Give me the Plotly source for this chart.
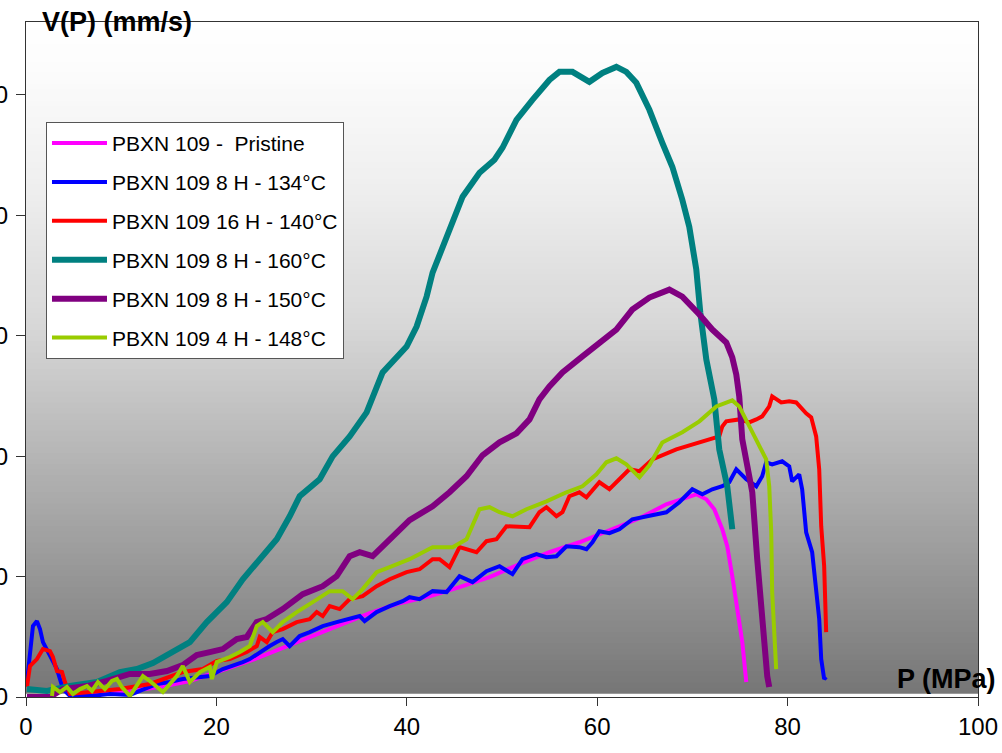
import plotly.graph_objects as go

# ---------------- data (P in MPa, V in mm/s) ----------------
names = ["PBXN 109 -  Pristine", "PBXN 109 8 H - 134°C", "PBXN 109 16 H - 140°C",
         "PBXN 109 8 H - 160°C", "PBXN 109 8 H - 150°C", "PBXN 109 4 H - 148°C"]

pristine_p = [4.62, 7.77, 10.91, 14.06, 17.21, 20.36, 23.50, 26.65, 29.80, 32.95, 36.10, 39.24, 42.39,
              45.54, 48.69, 51.84, 54.98, 58.13, 61.28, 64.43, 67.26, 68.94, 70.41, 71.46, 72.30, 73.14,
              73.66, 74.19, 74.71, 75.24, 75.66]
pristine_v = [0.08, 0.25, 0.50, 0.83, 1.33, 2.16, 2.99, 3.98, 4.98, 6.05, 6.97, 7.79, 8.37,
              9.12, 9.95, 11.03, 12.02, 12.85, 13.85, 14.84, 16.00, 16.42, 16.83, 16.42, 15.59, 13.93,
              12.52, 10.03, 7.30, 4.56, 1.24]

h134_p = [0.10, 0.42, 0.73, 1.15, 1.47, 1.78, 2.52, 3.25, 3.57, 3.88, 4.62, 6.72, 8.81, 10.91, 13.75,
          15.11, 16.47, 17.94, 19.31, 20.67, 21.72, 22.77, 23.50, 24.55, 25.60, 26.34, 26.97, 27.70,
          28.75, 29.80, 31.17, 32.63, 34.00, 35.05, 35.57, 36.83, 38.20, 39.56, 40.29, 41.34, 42.71,
          44.18, 45.54, 46.91, 48.37, 49.74, 51.10, 52.15, 53.62, 54.67, 55.72, 56.77, 58.13, 58.87,
          59.50, 60.23, 61.28, 62.33, 63.69, 65.48, 67.26, 68.63, 69.99, 71.04, 72.09, 73.14, 73.87,
          74.61, 75.66, 76.71, 77.33, 77.75, 78.38, 79.43, 80.17, 80.48, 81.22, 81.53, 81.95, 82.58,
          83.00, 83.32, 83.53, 83.84, 84.05]
h134_v = [1.24, 3.98, 5.89, 6.30, 5.64, 4.56, 3.40, 2.32, 1.49, 0.66, 0.08, 0.08, 0.25, 0.17, 1.08,
          1.24, 1.49, 1.66, 1.74, 2.32, 2.57, 2.90, 3.15, 3.73, 4.23, 4.56, 4.81, 4.23,
          5.06, 5.39, 5.89, 6.22, 6.47, 6.72, 6.30, 7.05, 7.55, 7.96, 8.29, 8.13, 8.79,
          8.71, 10.03, 9.54, 10.45, 10.86, 10.20, 11.44, 11.86, 11.61, 11.69, 12.52, 12.44, 12.27,
          12.85, 13.76, 13.60, 13.93, 14.76, 15.01, 15.34, 16.17, 17.25, 16.83, 17.25, 17.50, 17.83,
          18.91, 18.08, 17.50, 18.33, 19.49, 19.32, 19.57, 19.15, 17.91, 18.49, 17.25, 13.68, 12.02,
          8.71, 6.47, 3.15, 1.49, 1.66]

h140_p = [0.10, 0.42, 1.15, 1.78, 2.52, 2.83, 3.25, 3.78, 4.09, 4.62, 6.72, 9.86, 13.01, 14.38, 16.47,
          18.57, 20.04, 21.41, 23.19, 24.24, 24.55, 25.29, 25.92, 26.97, 28.44, 29.80, 30.54, 31.17,
          31.90, 32.95, 34.00, 35.36, 36.83, 38.20, 39.98, 41.34, 42.71, 43.44, 44.49, 45.54, 46.27,
          47.32, 48.37, 49.42, 50.47, 51.84, 52.89, 53.93, 54.67, 55.72, 56.35, 57.08, 58.13, 58.87,
          60.23, 61.28, 62.33, 63.38, 64.43, 65.79, 68.31, 69.36, 70.73, 71.77, 72.82, 73.14, 73.56,
          74.92, 75.97, 76.71, 77.33, 78.07, 78.38, 79.33, 80.17, 80.90, 81.53, 81.95, 82.48, 83.00,
          83.32, 83.53, 83.84, 84.05]
h140_v = [0.83, 2.57, 3.15, 3.98, 3.81, 3.32, 2.16, 2.07, 1.24, 0.25, 0.41, 0.66, 1.08, 1.49, 2.07,
          2.32, 2.99, 3.15, 3.73, 4.23, 4.98, 4.56, 5.39, 5.64, 6.22, 6.47, 7.05, 6.72,
          7.55, 7.30, 8.13, 8.37, 9.20, 9.78, 10.37, 10.61, 11.44, 11.44, 10.78, 12.44, 12.27,
          12.02, 12.94, 13.10, 14.18, 14.18, 14.10, 15.34, 15.76, 15.01, 15.34, 16.67, 17.00, 16.58,
          17.83, 17.25, 18.08, 18.91, 18.74, 19.73, 20.56, 20.81, 21.14, 21.39, 21.64, 22.47, 22.89,
          23.05, 22.80, 23.05, 23.30, 24.13, 24.96, 24.46, 24.55, 24.46, 23.88, 23.55, 23.22, 21.64,
          18.91, 14.18, 10.86, 5.39]

h160_p = [0.10, 2.20, 4.62, 7.45, 9.86, 11.65, 13.33, 15.11, 17.21, 18.99, 21.09, 22.77, 24.55, 26.34,
          27.70, 28.75, 30.85, 32.21, 34.00, 35.78, 37.46, 39.98, 41.03, 42.08, 42.71, 43.65, 44.49,
          45.86, 47.64, 49.21, 50.05, 51.52, 53.20, 54.98, 56.03, 57.40, 59.18, 60.55, 62.01, 63.06,
          64.11, 65.48, 66.84, 67.89, 68.94, 69.67, 70.41, 70.83, 71.46, 72.30, 72.82, 73.66, 74.19]
h160_v = [0.66, 0.50, 0.91, 1.24, 2.07, 2.32, 2.82, 3.57, 4.56, 6.22, 7.88, 9.78, 11.44, 13.10,
          15.01, 16.67, 18.08, 19.98, 21.64, 23.63, 26.95, 29.10, 30.76, 33.25, 35.24, 37.15, 39.05,
          41.54, 43.53, 44.61, 45.61, 47.93, 49.59, 51.24, 51.91, 51.91, 51.08, 51.82, 52.32, 51.91,
          51.00, 48.76, 46.02, 44.03, 41.29, 39.05, 35.49, 31.92, 28.03, 24.71, 20.56, 17.50, 13.93]

h150_p = [0.10, 2.52, 3.88, 6.40, 8.50, 10.91, 13.01, 14.80, 16.47, 17.94, 19.31, 20.67, 22.14, 23.19,
          24.24, 25.29, 26.97, 29.07, 31.17, 32.63, 34.00, 35.05, 36.41, 38.20, 40.29, 42.71, 44.49,
          46.27, 47.95, 49.74, 51.52, 52.89, 53.93, 54.98, 56.35, 58.45, 60.23, 62.01, 63.69, 65.48,
          67.58, 68.94, 70.73, 72.09, 73.56, 74.19, 74.61, 74.92, 75.24, 76.29, 76.81, 77.33, 77.86, 78.07]
h150_v = [0.00, 0.00, 0.66, 0.91, 1.33, 1.91, 1.91, 2.16, 2.65, 3.48, 3.73, 3.98, 4.81, 4.98,
          6.22, 6.47, 7.30, 8.54, 9.20, 10.03, 11.69, 12.02, 11.69, 13.10, 14.68, 15.84, 17.00,
          18.33, 20.07, 21.14, 21.89, 23.05, 24.71, 25.79, 26.95, 28.28, 29.44, 30.51, 32.17, 33.17,
          33.83, 33.25, 31.76, 30.51, 29.44, 28.19, 26.78, 24.96, 21.39, 17.00, 11.44, 5.89, 1.74, 0.83]

h148_p = [2.73, 2.83, 3.57, 4.30, 4.93, 5.67, 6.40, 6.93, 7.56, 8.29, 9.02, 9.55, 10.07, 10.91, 12.28,
          13.01, 14.38, 15.84, 16.47, 17.21, 18.26, 19.31, 19.52, 20.04, 21.41, 22.46, 23.50, 24.24,
          24.87, 25.92, 26.97, 28.44, 30.12, 31.90, 33.26, 34.31, 35.36, 36.83, 38.20, 40.29, 42.71,
          44.81, 46.27, 47.64, 48.69, 49.74, 51.10, 52.57, 54.67, 56.77, 58.45, 59.92, 60.97, 62.01,
          63.06, 64.43, 65.48, 66.84, 68.94, 70.73, 72.51, 74.19, 74.92, 75.97, 77.02, 77.75, 78.07,
          78.28, 78.38, 78.80]
h148_v = [0.08, 0.83, 0.41, 0.83, 0.25, 0.66, 0.91, 0.50, 1.24, 0.66, 1.33, 1.49, 0.83, 0.08, 1.74,
          1.33, 0.41, 1.74, 2.57, 1.24, 2.07, 2.49, 1.49, 2.90, 3.32, 3.73, 4.23, 5.89,
          6.22, 5.39, 6.22, 7.05, 7.88, 8.79, 8.79, 8.13, 8.96, 10.37, 10.78, 11.44, 12.44,
          12.44, 13.10, 15.59, 15.76, 15.34, 15.01, 15.59, 16.25, 17.00, 17.50, 18.49, 19.49, 19.82,
          19.32, 18.24, 19.24, 21.14, 21.98, 22.89, 24.13, 24.63, 24.13, 22.47, 20.81, 19.73, 17.50,
          13.68, 8.71, 2.32]

x_ticks = [0, 20, 40, 60, 80, 100]
y_ticks = [0, 10, 20, 30, 40, 50]

series = [
    (names[0], pristine_p, pristine_v, "#FF00FF", 4),
    (names[1], h134_p, h134_v, "#0000FF", 4),
    (names[2], h140_p, h140_v, "#FF0000", 4),
    (names[3], h160_p, h160_v, "#008080", 6),
    (names[4], h150_p, h150_v, "#800080", 6),
    (names[5], h148_p, h148_v, "#99CC00", 4),
]

fig = go.Figure()
for i, (nm, xs, ys, col, w) in enumerate(series):
    fig.add_trace(go.Scatter(x=xs, y=ys, mode="lines", name=nm, legendgroup=f"g{i}",
                             line=dict(color=col, width=w)))

# gradient background (white at top to grey at bottom)
ctrl = [(1.0, 255), (0.93, 252), (0.75, 238), (0.55, 215), (0.35, 180), (0.15, 145), (0.005, 118)]
N = 120
for k in range(N):
    y0 = 0.005 + (1.0 - 0.005) * k / N
    y1 = 0.005 + (1.0 - 0.005) * (k + 1) / N
    ym = (y0 + y1) / 2
    for j in range(len(ctrl) - 1):
        ya, ca = ctrl[j]
        yb, cb = ctrl[j + 1]
        if yb <= ym <= ya:
            c = cb + (ca - cb) * (ym - yb) / (ya - yb)
            break
    c = int(round(c))
    fig.add_shape(type="rect", xref="paper", yref="paper", x0=0, x1=1, y0=y0, y1=y1 + 0.002,
                  fillcolor=f"rgb({c},{c},{c})", line=dict(width=0), layer="below")

font_family = "Arial, 'Liberation Sans', sans-serif"
fig.update_layout(
    width=1002, height=753,
    margin=dict(l=26, r=24, t=22, b=56, autoexpand=False),
    paper_bgcolor="white", plot_bgcolor="white",
    font=dict(family=font_family, color="black"),
    showlegend=True,
    legend=dict(x=0.021, y=0.852, xanchor="left", yanchor="top", bgcolor="white",
                bordercolor="#555555", borderwidth=1, font=dict(size=21, family=font_family),
                tracegroupgap=8.6, traceorder="grouped", itemwidth=55),
    xaxis=dict(range=[0, 100], tickvals=x_ticks, ticks="outside", ticklen=8, tickcolor="#333",
               showgrid=False, zeroline=False, showline=True, linecolor="#333", linewidth=1,
               mirror=True, tickfont=dict(size=24), automargin=False),
    yaxis=dict(range=[0, 56.05], tickvals=y_ticks, ticks="outside", ticklen=9, tickcolor="#333",
               showgrid=False, zeroline=False, showline=True, linecolor="#333", linewidth=1,
               mirror=True, tickfont=dict(size=24), automargin=False, ticklabelstandoff=3),
    annotations=[
        dict(text="<b>V(P) (mm/s)</b>", xref="paper", yref="paper", x=0.0147, y=1.0,
             xanchor="left", yanchor="middle", showarrow=False, font=dict(size=27)),
        dict(text="<b>P (MPa)</b>", xref="paper", yref="paper", x=1.021, y=0.0267,
             xanchor="right", yanchor="middle", showarrow=False, font=dict(size=27)),
    ],
)

fig.write_html("out.html", config={"displayModeBar": False},
               post_script="document.body.style.margin='0';")
